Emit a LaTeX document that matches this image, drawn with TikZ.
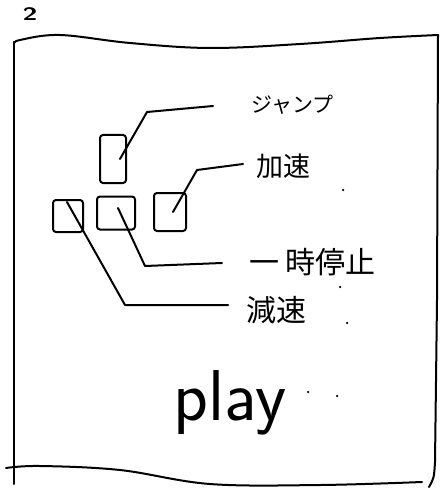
\documentclass[tikz,border=0pt]{standalone}
\usepackage{fontspec}
\newfontfamily\jp{Noto Sans CJK JP}
\tikzset{
  pen/.style={line width=2pt, line cap=round, line join=round},
  btn/.style={draw, pen, rounded corners=3pt, inner sep=0pt},
  conn/.style={pen},
  lbl/.style={inner sep=0pt, anchor=west},
  speck/.style={fill=black, circle, inner sep=0pt, minimum size=2.5pt}
}
\begin{document}
\begin{tikzpicture}[x=1pt,y=-1pt]
\useasboundingbox (0,0) rectangle (442,489);
% page number
\node[inner sep=0pt, xscale=1.5] (num) at (30,14) {\sffamily\bfseries\fontsize{18}{18}\selectfont 2};
% frame
\draw[pen] plot[smooth, tension=0.6] coordinates {(14,44) (20,40) (60,35) (130,43) (210,48) (300,44) (380,38) (438,35)};
\draw[pen] (14,42) -- (14,484);
\draw[pen] (438,35) -- (437,300) -- (435,462) .. controls (434,478) .. (429,487);
\draw[pen] plot[smooth, tension=0.6] coordinates {(6,468) (40,466) (120,470) (210,484) (320,485) (422,482)};
% buttons
\node[btn, minimum width=26pt, minimum height=48pt] (jump) at (113,159) {};
\node[btn, minimum width=30pt, minimum height=32pt] (slow) at (68,216) {};
\node[btn, minimum width=38pt, minimum height=33pt] (pause) at (116,213) {};
\node[btn, minimum width=32pt, minimum height=38pt] (fast) at (170,212) {};
% labels
\node[lbl] (jumpl) at (251,105) {\jp\fontsize{21}{21}\selectfont ジャンプ};
\node[lbl] (fastl) at (256,166) {\jp\fontsize{27}{27}\selectfont 加速};
\node[lbl] (pausel) at (249,262) {\jp\fontsize{30}{30}\selectfont 一\hspace{6pt}時停止};
\node[lbl] (slowl) at (246,310) {\jp\fontsize{30}{30}\selectfont 減速};
% connectors
\coordinate (jb) at (147,112);
\coordinate (je) at (213,106);
\draw[conn] ([xshift=7pt]jump.center) -- (jb) -- (je);
\coordinate (fb) at (197,170);
\coordinate (fe) at (243,164);
\draw[conn] ([shift={(3pt,0pt)}]fast.center) -- (fb) -- (fe);
\coordinate (pb) at (145,266);
\coordinate (pe) at (222,263);
\draw[conn] ([shift={(2pt,5pt)}]pause.center) -- (pb) -- (pe);
\coordinate (sb) at (125,305);
\coordinate (se) at (228,305);
\draw[conn] ([shift={(-1pt,14pt)}]slow.center) -- (sb) -- (se);
% play
\node[inner sep=0pt, anchor=base] (play) at (230,420) {\sffamily\fontsize{72}{72}\selectfont play};
% specks
\node[speck] (d1) at (343,190) {};
\node[speck] (d2) at (340,287) {};
\node[speck] (d3) at (347,323) {};
\node[speck] (d4) at (308,392) {};
\node[speck] (d5) at (337,396) {};
\end{tikzpicture}
\end{document}
